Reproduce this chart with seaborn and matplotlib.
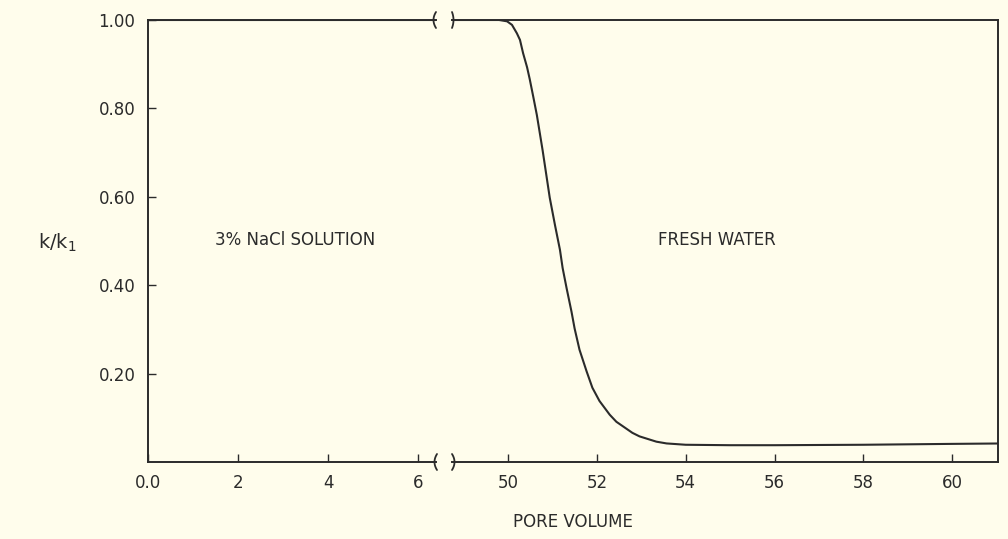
import numpy as np
import pandas as pd
import matplotlib
matplotlib.use("Agg")
import matplotlib.pyplot as plt
from matplotlib.lines import Line2D
import seaborn as sns

# ---- data ----
pore_volume = [0, 2, 4, 6, 49.0, 49.8, 49.98, 50.09, 50.2, 50.27, 50.34, 50.43,
               50.49, 50.57, 50.65, 50.78, 50.94, 51.06, 51.17, 51.23, 51.32,
               51.43, 51.5, 51.61, 51.77, 51.9, 52.06, 52.29, 52.44, 52.8,
               52.96, 53.34, 53.57, 54.0, 55.0, 56.0, 58.0, 60.0, 61.2]
k_ratio = [1.0, 1.0, 1.0, 1.0, 1.0, 1.0, 0.997, 0.989, 0.97, 0.955, 0.925, 0.893,
           0.866, 0.826, 0.785, 0.705, 0.598, 0.535, 0.48, 0.439, 0.393,
           0.34, 0.302, 0.254, 0.205, 0.168, 0.138, 0.107, 0.091, 0.066,
           0.058, 0.046, 0.042, 0.039, 0.038, 0.038, 0.039, 0.041, 0.042]
left_xticks = [0, 2, 4, 6]
left_xticklabels = ["0.0", "2", "4", "6"]
right_xticks = [50, 52, 54, 56, 58, 60]
yticks = [0.2, 0.4, 0.6, 0.8, 1.0]
yticklabels = ["0.20", "0.40", "0.60", "0.80", "1.00"]

df = pd.DataFrame({"pv": pore_volume, "k": k_ratio})

sns.set_theme(style="ticks")
plt.rcParams["font.family"] = ["DejaVu Sans"]
bg = "#fffdec"
ink = "#2b2b2b"
plt.rcParams.update({
    "axes.edgecolor": ink, "axes.linewidth": 1.4,
    "xtick.color": ink, "ytick.color": ink,
    "xtick.direction": "in", "ytick.direction": "in",
    "xtick.major.size": 6, "ytick.major.size": 6,
    "xtick.major.width": 1.0, "ytick.major.width": 1.0,
    "text.color": ink, "axes.labelcolor": ink,
})

W, H = 1008, 539
fig = plt.figure(figsize=(W / 100, H / 100), dpi=100, facecolor=bg)

def box(x0, x1, y0=20, y1=462):
    return [x0 / W, 1 - y1 / H, (x1 - x0) / W, (y1 - y0) / H]

axL = fig.add_axes(box(148, 436))
axR = fig.add_axes(box(452, 998))

for ax in (axL, axR):
    ax.set_facecolor(bg)
    sns.lineplot(data=df, x="pv", y="k", ax=ax, color=ink, linewidth=1.5,
                 estimator=None, sort=True)
    ax.set_ylim(0, 1.0)
    ax.set_xlabel("")
    ax.set_ylabel("")
    ax.tick_params(labelsize=12, pad=9)

axL.set_xlim(0, 6.4)
axR.set_xlim(48.74, 61.03)

axL.set_xticks(left_xticks)
axL.set_xticklabels(left_xticklabels)
axL.set_yticks(yticks)
axL.set_yticklabels(yticklabels)
axL.spines["right"].set_visible(False)

axR.set_xticks(right_xticks)
axR.set_yticks([])
axR.spines["left"].set_visible(False)

# break marks
def arc(xc, yc, bend):
    t = np.linspace(-1, 1, 15)
    xs = (xc + bend * (1 - t ** 2)) / W
    ys = 1 - (yc + 8 * t) / H
    fig.add_artist(Line2D(xs, ys, color=ink, lw=1.3))

arc(436, 20, -2.5)
arc(452, 20, 1.5)
arc(437, 462, -2.5)
arc(452, 462, 2.5)

# annotations
fig.text(295 / W, 1 - 240 / H, "3% NaCl SOLUTION", ha="center", va="center", fontsize=12)
fig.text(717 / W, 1 - 240 / H, "FRESH WATER", ha="center", va="center", fontsize=12)
fig.text(573 / W, 1 - 522 / H, "PORE VOLUME", ha="center", va="center", fontsize=12)
fig.text(57 / W, 1 - 243 / H, r"k/k$_1$", ha="center", va="center", fontsize=14)

fig.savefig("out.png", dpi=100, facecolor=bg)
